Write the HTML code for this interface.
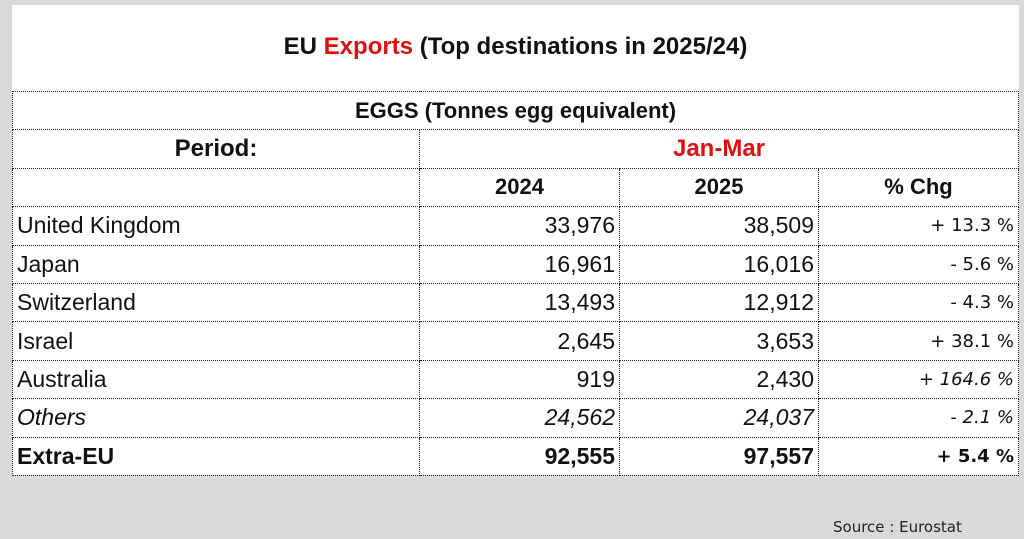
<!DOCTYPE html>
<html><head><meta charset="utf-8"><style>
body{margin:0;width:1024px;height:539px;background:#d9d9d9;position:relative;overflow:hidden;font-family:"Liberation Sans",sans-serif;color:#111}
.panel{position:absolute;left:12px;top:5px;width:1007px;height:470px;background:#fff}
.title{position:absolute;left:12px;width:1007px;top:33px;text-align:center;font-weight:bold;font-size:24px}
table{position:absolute;left:12px;top:91px;border-collapse:collapse;width:1006px;table-layout:fixed}
td{border:1px dotted #222;height:37.4px;padding:0 4px;font-size:23px;white-space:nowrap;overflow:hidden}
.c{text-align:center;font-weight:bold;font-size:22px}
.r{text-align:right}
.p{text-align:right;font-family:"DejaVu Sans",sans-serif;font-size:18px}
.red{color:#e01010}
.src{position:absolute;left:833px;top:518px;font-family:"DejaVu Sans",sans-serif;font-size:15px;color:#222}
</style></head><body>
<div class="panel"></div>
<div class="title">EU <span class="red">Exports</span> (Top destinations in 2025/24)</div>
<table>
<col style="width:407px"><col style="width:200px"><col style="width:199px"><col style="width:200px">
<tr><td colspan="4" class="c">EGGS (Tonnes egg equivalent)</td></tr>
<tr><td class="c" style="font-size:24px">Period:</td><td colspan="3" class="c red" style="font-size:24px">Jan-Mar</td></tr>
<tr><td></td><td class="c">2024</td><td class="c">2025</td><td class="c">% Chg</td></tr>
<tr><td>United Kingdom</td><td class="r">33,976</td><td class="r">38,509</td><td class="p">+ 13.3 %</td></tr>
<tr><td>Japan</td><td class="r">16,961</td><td class="r">16,016</td><td class="p">- 5.6 %</td></tr>
<tr><td>Switzerland</td><td class="r">13,493</td><td class="r">12,912</td><td class="p">- 4.3 %</td></tr>
<tr><td>Israel</td><td class="r">2,645</td><td class="r">3,653</td><td class="p">+ 38.1 %</td></tr>
<tr><td>Australia</td><td class="r">919</td><td class="r">2,430</td><td class="p"><i>+ 164.6 %</i></td></tr>
<tr style="font-style:italic"><td>Others</td><td class="r">24,562</td><td class="r">24,037</td><td class="p">- 2.1 %</td></tr>
<tr style="font-weight:bold"><td>Extra-EU</td><td class="r">92,555</td><td class="r">97,557</td><td class="p" style="font-weight:bold">+ 5.4 %</td></tr>
</table>
<div class="src">Source : Eurostat</div>
</body></html>
